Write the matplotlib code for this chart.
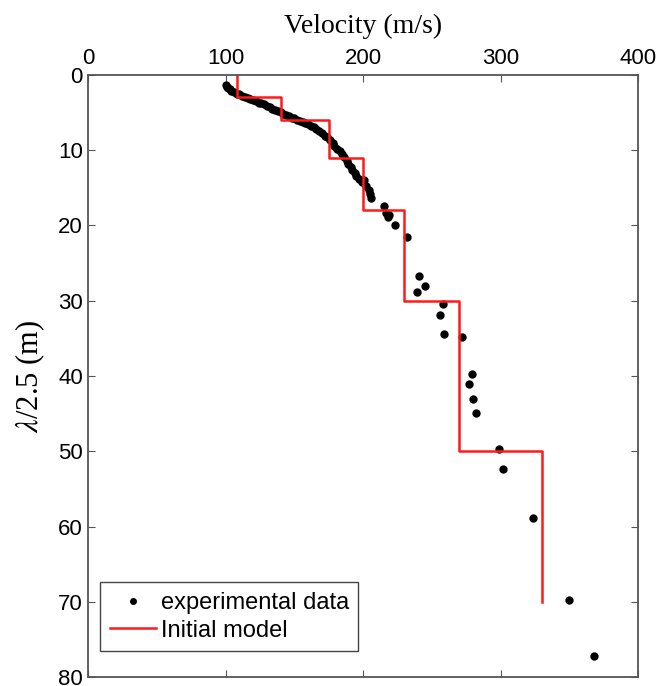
import matplotlib
matplotlib.use("Agg")
import matplotlib.pyplot as plt

# experimental dispersion points (velocity m/s, lambda/2.5 m)
exp_velocity = [100, 101, 102, 103, 104, 106, 108, 110, 112, 114, 116, 118, 120, 122,
                124, 126, 128, 130, 132, 134, 136, 138, 140, 142, 144, 146, 148, 150,
                152, 154, 156, 158, 160, 162, 164, 166, 168, 170, 172, 174, 176, 178,
                179, 181, 183, 185, 186, 188, 189, 191, 192, 194, 195, 197, 199, 201,
                202, 204, 205, 206, 215, 217, 219, 218, 223, 232, 241, 245, 239, 258,
                256, 259, 272, 279, 277, 280, 282, 299, 302, 324, 350, 368]
exp_depth = [1.4, 1.6, 1.8, 1.9, 2.1, 2.3, 2.5, 2.6, 2.8, 3.0, 3.1, 3.2, 3.4, 3.5,
             3.7, 3.8, 3.9, 4.1, 4.3, 4.5, 4.7, 4.8, 5.0, 5.2, 5.4, 5.5, 5.7, 5.8,
             6.0, 6.1, 6.3, 6.4, 6.6, 6.8, 7.0, 7.2, 7.5, 7.8, 8.1, 8.3, 8.7, 9.0,
             9.4, 9.8, 10.1, 10.5, 10.9, 11.4, 11.8, 12.2, 12.6, 13.0, 13.5, 13.9, 14.3, 14.0,
             14.8, 15.3, 15.9, 16.4, 17.4, 18.4, 18.6, 18.9, 19.9, 21.6, 26.7, 28.0, 28.9, 30.4,
             31.9, 34.4, 34.8, 39.8, 41.1, 43.0, 44.9, 49.7, 52.4, 58.9, 69.8, 77.2]

# initial layered model
model_velocity = [108, 140, 175, 200, 230, 270, 330]
model_top = [0, 3, 6, 11, 18, 30, 50]
model_bottom = [3, 6, 11, 18, 30, 50, 70]

plt.rcParams['font.family'] = ['Liberation Sans', 'DejaVu Sans']
plt.rcParams['mathtext.fontset'] = 'stix'

fig = plt.figure(figsize=(6.59, 6.86), dpi=100)
ax = fig.add_axes([0.134, 0.013, 0.834, 0.878])

# build the step outline of the model
step_x, step_y = [], []
for v, t, b in zip(model_velocity, model_top, model_bottom):
    step_x += [v, v]
    step_y += [t, b]

ax.plot(exp_velocity, exp_depth, 'o', color='black', markersize=5, label='experimental data')
ax.plot(step_x, step_y, '-', color='#ff1a1a', linewidth=1.8, label='Initial model')

ax.set_xlim(0, 400)
ax.set_ylim(80, 0)
ax.set_xticks([0, 100, 200, 300, 400])
ax.set_yticks(range(0, 90, 10))

ax.xaxis.tick_top()
ax.xaxis.set_label_position('top')
ax.tick_params(direction='in', top=True, bottom=True, left=True, right=True,
               labelsize=16, length=5, color='#555555', pad=4)

for sp in ax.spines.values():
    sp.set_color('#555555')
    sp.set_linewidth(1.3)

ax.set_xlabel('Velocity (m/s)', family='Liberation Serif', fontsize=20, labelpad=11)
ax.set_ylabel(r'$\lambda$/2.5 (m)', family='Liberation Serif', fontsize=22, labelpad=8)

leg = ax.legend(loc='lower left', bbox_to_anchor=(0.022, 0.043), borderaxespad=0,
                fontsize=17, fancybox=False, framealpha=1, edgecolor='#444444',
                handlelength=1.95, handletextpad=0.2, borderpad=0.4, labelspacing=0.25,
                markerscale=0.8)
leg.get_frame().set_linewidth(1.0)

fig.savefig('out.png', dpi=100)
